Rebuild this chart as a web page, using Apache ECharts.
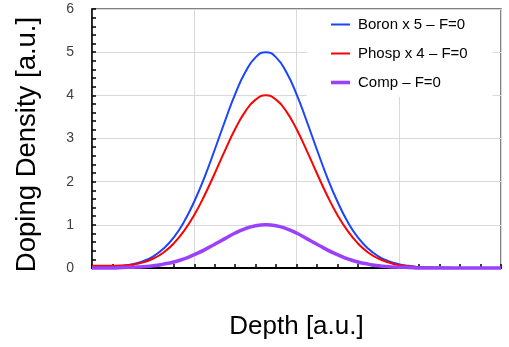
<!DOCTYPE html>
<html>
<head>
<meta charset="utf-8">
<script src="https://cdn.jsdelivr.net/npm/echarts@6/dist/echarts.min.js"></script>
<style>
  html, body { margin: 0; padding: 0; background: #fff; }
</style>
</head>
<body>

<div id="main" style="width: 509px;height:347px;"></div>

<script type="text/javascript">
    // depth positions (a.u., one step = one minor tick)
    var depth = [0, 0.5, 1, 1.5, 2, 2.5, 3, 3.5, 4, 4.5, 5, 5.5, 6, 6.5, 7, 7.5, 8, 8.5,
        9, 9.5, 10, 10.5, 11, 11.5, 12, 12.5, 13, 13.5, 14, 14.5, 15, 15.5, 16, 16.5, 17, 18, 19, 20];

    var boron = [0.03, 0.03, 0.03, 0.05, 0.09, 0.16, 0.27, 0.45, 0.71, 1.07, 1.54, 2.10, 2.74, 3.40, 4.03, 4.54, 4.88, 5.00,
        4.88, 4.54, 4.03, 3.40, 2.74, 2.10, 1.54, 1.07, 0.71, 0.45, 0.27, 0.16, 0.09, 0.05, 0.02, 0.01, 0.01, 0, 0, 0];

    var phosp = [0.05, 0.05, 0.05, 0.06, 0.08, 0.13, 0.22, 0.36, 0.57, 0.86, 1.23, 1.68, 2.19, 2.72, 3.22, 3.63, 3.90, 4.00,
        3.90, 3.63, 3.22, 2.72, 2.19, 1.68, 1.23, 0.86, 0.57, 0.36, 0.22, 0.13, 0.07, 0.04, 0.02, 0.01, 0, 0, 0, 0];

    var comp = [0, 0, 0, 0.01, 0.02, 0.03, 0.05, 0.09, 0.14, 0.21, 0.31, 0.42, 0.55, 0.68, 0.81, 0.91, 0.98, 1.00,
        0.98, 0.91, 0.81, 0.68, 0.55, 0.42, 0.31, 0.21, 0.14, 0.09, 0.05, 0.03, 0.02, 0.01, 0, 0, 0, 0, 0, 0];

    var seriesNames = ['Boron x 5 \u2013 F=0', 'Phosp x 4 \u2013 F=0', 'Comp \u2013 F=0'];

    // plain line swatches for the legend (thin / thin / thick)
    var thinLine = 'path://M0,0M19,14M0,6h19v2h-19z';
    var thickLine = 'path://M0,0M19,14M0,5.2h19v3.6h-19z';

    function pairs(ys) {
        return depth.map(function (x, i) { return [x, ys[i]]; });
    }

    var myChart = echarts.init(document.getElementById('main'));

    var option = {
        animation: false,
        textStyle: { fontFamily: 'Liberation Sans' },
        grid: {
            left: 92, right: 8, top: 9, bottom: 79,
            show: true,
            borderColor: '#595959',
            borderWidth: 1.5
        },
        legend: {
            orient: 'vertical',
            left: 307, top: 10,
            padding: [7, 25, 7, 24],
            backgroundColor: '#fff',
            itemWidth: 19, itemHeight: 14, itemGap: 14,
            textStyle: { fontSize: 15, color: '#000', padding: [0, 0, 0, 3] },
            data: [
                { name: seriesNames[0], icon: thinLine },
                { name: seriesNames[1], icon: thinLine },
                { name: seriesNames[2], icon: thickLine }
            ]
        },
        xAxis: {
            type: 'value',
            min: 0, max: 20, interval: 5,
            name: 'Depth [a.u.]',
            nameLocation: 'middle',
            nameGap: 46,
            nameTextStyle: { fontSize: 26, color: '#000' },
            axisLine: { lineStyle: { color: '#000', width: 2 } },
            axisTick: { inside: true, length: 4, lineStyle: { color: '#000', width: 1.5 } },
            minorTick: { show: true, splitNumber: 5, length: 4, lineStyle: { color: '#000', width: 1.5 } },
            axisLabel: { show: false },
            splitLine: { lineStyle: { color: '#d9d9d9', width: 1 } }
        },
        yAxis: {
            type: 'value',
            min: 0, max: 6, interval: 1,
            name: 'Doping Density [a.u.]',
            nameLocation: 'middle',
            nameGap: 51,
            nameTextStyle: { fontSize: 27.5, color: '#000', padding: [0, 12, 0, 0] },
            axisLine: { show: true, lineStyle: { color: '#000', width: 1.5 } },
            axisTick: { show: true, inside: true, length: 4, lineStyle: { color: '#000', width: 1.5 } },
            minorTick: { show: true, splitNumber: 5, length: 4, lineStyle: { color: '#000', width: 1.5 } },
            axisLabel: { fontSize: 14, color: '#404040', margin: 18 },
            splitLine: { lineStyle: { color: '#d9d9d9', width: 1 } }
        },
        series: [
            {
                name: seriesNames[0], type: 'line', data: pairs(boron),
                smooth: true, symbol: 'none', clip: false,
                lineStyle: { color: '#1a44ff', width: 2 }, itemStyle: { color: '#1a44ff' }, z: 3
            },
            {
                name: seriesNames[1], type: 'line', data: pairs(phosp),
                smooth: true, symbol: 'none', clip: false,
                lineStyle: { color: '#ff0000', width: 2 }, itemStyle: { color: '#ff0000' }, z: 4
            },
            {
                name: seriesNames[2], type: 'line', data: pairs(comp),
                smooth: true, symbol: 'none', clip: false,
                lineStyle: { color: '#9b40ff', width: 3.5 }, itemStyle: { color: '#9b40ff' }, z: 5
            }
        ]
    };

    myChart.setOption(option);
</script>
</body>
</html>
